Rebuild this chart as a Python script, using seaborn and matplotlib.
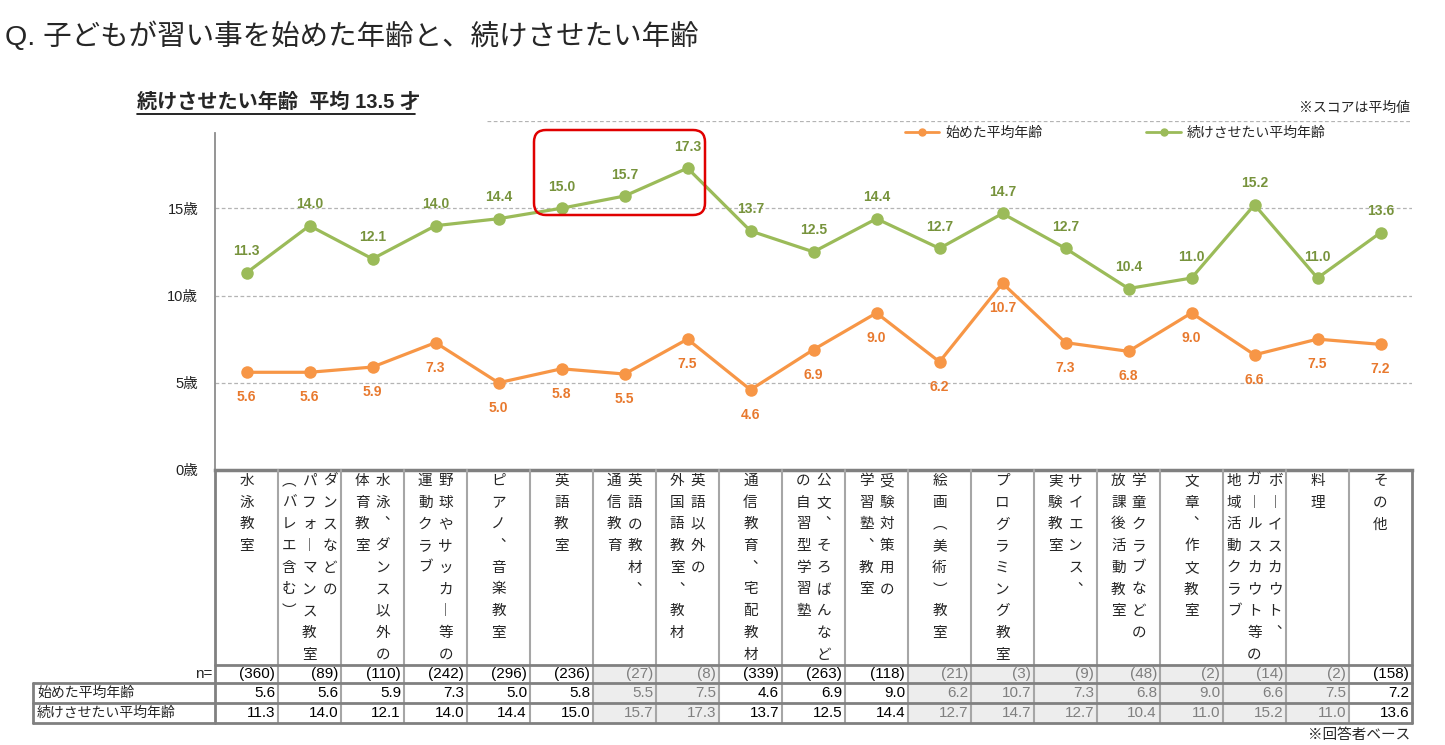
import numpy as np
import pandas as pd
import matplotlib
matplotlib.use("Agg")
import matplotlib.pyplot as plt
import seaborn as sns
from matplotlib.transforms import Affine2D, blended_transform_factory, offset_copy
from matplotlib.lines import Line2D
from matplotlib.patches import Rectangle, FancyBboxPatch

# ==============================
# DATA
# ==============================
categories = [
    "水泳教室", "ダンスなどのパフォーマンス教室（バレエ含む）", "水泳、ダンス以外の体育教室",
    "野球やサッカー等の運動クラブ", "ピアノ、音楽教室", "英語教室", "英語の教材、通信教育",
    "英語以外の外国語教室、教材", "通信教育、宅配教材", "公文、そろばんなどの自習型学習塾",
    "受験対策用の学習塾、教室", "絵画（美術）教室", "プログラミング教室", "サイエンス、実験教室",
    "学童クラブなどの放課後活動教室", "文章、作文教室",
    "ボーイスカウト、ガールスカウト等の地域活動クラブ", "料理", "その他",
]
# vertical label columns, right to left
cat_cols = [
    ["水泳教室"],
    ["ダンスなどの", "パフォーマンス教室", "（バレエ含む）"],
    ["水泳、ダンス以外の", "体育教室"],
    ["野球やサッカー等の", "運動クラブ"],
    ["ピアノ、音楽教室"],
    ["英語教室"],
    ["英語の教材、", "通信教育"],
    ["英語以外の", "外国語教室、教材"],
    ["通信教育、宅配教材"],
    ["公文、そろばんなど", "の自習型学習塾"],
    ["受験対策用の", "学習塾、教室"],
    ["絵画（美術）教室"],
    ["プログラミング教室"],
    ["サイエンス、", "実験教室"],
    ["学童クラブなどの", "放課後活動教室"],
    ["文章、作文教室"],
    ["ボーイスカウト、", "ガールスカウト等の", "地域活動クラブ"],
    ["料理"],
    ["その他"],
]
n_base = [360, 89, 110, 242, 296, 236, 27, 8, 339, 263, 118, 21, 3, 9, 48, 2, 14, 2, 158]
start_age = [5.6, 5.6, 5.9, 7.3, 5.0, 5.8, 5.5, 7.5, 4.6, 6.9, 9.0, 6.2, 10.7, 7.3, 6.8, 9.0, 6.6, 7.5, 7.2]
keep_age = [11.3, 14.0, 12.1, 14.0, 14.4, 15.0, 15.7, 17.3, 13.7, 12.5, 14.4, 12.7, 14.7, 12.7, 10.4, 11.0, 15.2, 11.0, 13.6]
series_names = ["始めた平均年齢", "続けさせたい平均年齢"]
y_ticks = [0, 5, 10, 15]

# ==============================
# STYLE
# ==============================
sns.set_style("white")
JP = "Noto Sans CJK JP"
plt.rcParams["font.family"] = ["Liberation Sans", JP]

ORANGE, ORANGE_TXT = "#F79646", "#E8792E"
GREEN, GREEN_TXT = "#9BBB59", "#77933C"
GRID = "#808080"
vmap = {"、": "\ufe11", "ー": "\ufe31", "（": "\ufe35", "）": "\ufe36"}

W, H = 1445, 745
fig = plt.figure(figsize=(W / 100, H / 100), dpi=100)
px = Affine2D().scale(1 / W, -1 / H).translate(0, 1) + fig.transFigure

# layout in pixels
AX_L, AX_R, AX_B, AX_T = 215, 1412, 470, 121
TAB_L, CAT_B, ROW1, ROW2, ROW3 = 33, 665, 683, 703, 723

ax = fig.add_axes([AX_L / W, 1 - AX_B / H, (AX_R - AX_L) / W, (AX_B - AX_T) / H])

# ==============================
# LINES
# ==============================
pos = list(range(len(categories)))
df = pd.DataFrame({
    "pos": pos * 2,
    "age": start_age + keep_age,
    "series": [series_names[0]] * len(pos) + [series_names[1]] * len(pos),
})
sns.lineplot(data=df, x="pos", y="age", hue="series",
             palette={series_names[0]: ORANGE, series_names[1]: GREEN},
             marker="o", markersize=9, markeredgewidth=0, linewidth=2.3,
             legend=False, ax=ax)

for i, v in enumerate(start_age):
    ax.annotate(f"{v:.1f}", (i, v), xytext=(0, -18), textcoords="offset points",
                ha="center", va="center", fontsize=10, fontweight="bold", color=ORANGE_TXT)
for i, v in enumerate(keep_age):
    ax.annotate(f"{v:.1f}", (i, v), xytext=(0, 15.5), textcoords="offset points",
                ha="center", va="center", fontsize=10, fontweight="bold", color=GREEN_TXT)

ax.set_xlim(-0.5, len(categories) - 0.5)
ax.set_ylim(0, 20)
ax.set_xticks([])
ax.set_yticks(y_ticks)
ax.set_yticklabels([f"{t}歳" for t in y_ticks], fontsize=10.5, color="#222222")
ax.tick_params(axis="y", length=0, pad=12)
ax.set_xlabel("")
ax.set_ylabel("")
for t in y_ticks[1:]:
    ax.axhline(t, color="#B4B4B4", lw=0.9, ls=(0, (3, 2)), zorder=0)
ax.axhline(20, xmin=(487 - AX_L) / (AX_R - AX_L), color="#B4B4B4", lw=0.9, ls=(0, (3, 2)), zorder=0)
for s in ["top", "right"]:
    ax.spines[s].set_visible(False)
ax.spines["left"].set_color("#8C8C8C")
ax.spines["left"].set_linewidth(1.3)
ax.spines["left"].set_bounds(0, 19.3)
ax.spines["bottom"].set_color(GRID)
ax.spines["bottom"].set_linewidth(2.5)

# legend
handles = [Line2D([], [], color=c, lw=2, marker="o", markersize=5) for c in [ORANGE, GREEN]]
ax.legend(handles, series_names, loc="center", bbox_to_anchor=(1115 / W, 1 - 133 / H),
          bbox_transform=fig.transFigure, ncol=2, frameon=False, fontsize=10,
          handlelength=2.5, handletextpad=0.4, columnspacing=7.5)

# highlight box
fig.add_artist(FancyBboxPatch((534, 130), 171, 85, boxstyle="round,pad=0,rounding_size=12",
                              transform=px, fill=False, edgecolor="#E00000", lw=1.8))

# ==============================
# TEXT
# ==============================
fig.text(5, 36, "Q. 子どもが習い事を始めた年齢と、続けさせたい年齢", transform=px,
         fontsize=20.5, ha="left", va="center")
fig.text(137, 102, "続けさせたい年齢  平均 13.5 才", transform=px, fontsize=14.5,
         fontweight="bold", ha="left", va="center")
fig.add_artist(Line2D([137, 415], [114, 114], transform=px, color="black", lw=1.2))
fig.text(1410, 108, "※スコアは平均値", transform=px, fontsize=10, ha="right", va="center")
fig.text(1410, 735, "※回答者ベース", transform=px, fontsize=10.5, ha="right", va="center")

# ==============================
# TABLE
# ==============================
colx = blended_transform_factory(ax.transData, px)
ncat = len(categories)

small = [n < 50 for n in n_base]
for i in range(ncat):
    if small[i]:
        fig.add_artist(Rectangle((i - 0.5, CAT_B), 1, ROW3 - CAT_B, transform=colx,
                                 facecolor="#EDEDED", edgecolor="none", zorder=0))

for b in np.arange(-0.5, ncat):
    outer = b in (-0.5, ncat - 0.5)
    fig.add_artist(Line2D([b, b], [AX_B, ROW3], transform=colx,
                          color=GRID if outer else "#A6A6A6", lw=2 if outer else 1.5))
fig.add_artist(Line2D([AX_L, AX_R], [CAT_B, CAT_B], transform=px, color=GRID, lw=2))
for yy in (ROW1, ROW2, ROW3):
    fig.add_artist(Line2D([TAB_L, AX_R], [yy, yy], transform=px, color=GRID, lw=2))
fig.add_artist(Line2D([TAB_L, TAB_L], [ROW1, ROW3], transform=px, color=GRID, lw=2))

# vertical category labels
for i, cols in enumerate(cat_cols):
    nc = len(cols)
    for k, col in enumerate(cols):
        dx = ((nc - 1) / 2 - k) * 20.5
        tr = offset_copy(colx, fig=fig, x=dx, y=0, units="dots")
        for j, ch in enumerate(col):
            fig.text(i, 481 + j * 21.7, vmap.get(ch, ch), transform=tr, ha="center",
                     va="center", fontsize=10.5, family=JP)

# rows
fig.text(212, 674, "n=", transform=px, fontsize=11, ha="right", va="center")
fig.text(37, 693, series_names[0], transform=px, fontsize=10, ha="left", va="center")
fig.text(37, 713, series_names[1], transform=px, fontsize=10, ha="left", va="center")
cell = offset_copy(colx, fig=fig, x=-3, y=0, units="dots")
for i in range(ncat):
    c = "#7F7F7F" if small[i] else "black"
    fig.text(i + 0.5, 674, f"({n_base[i]})", transform=cell, fontsize=11, ha="right", va="center", color=c)
    fig.text(i + 0.5, 693, f"{start_age[i]:.1f}", transform=cell, fontsize=11, ha="right", va="center", color=c)
    fig.text(i + 0.5, 713, f"{keep_age[i]:.1f}", transform=cell, fontsize=11, ha="right", va="center", color=c)

fig.savefig("out.png", dpi=100)
